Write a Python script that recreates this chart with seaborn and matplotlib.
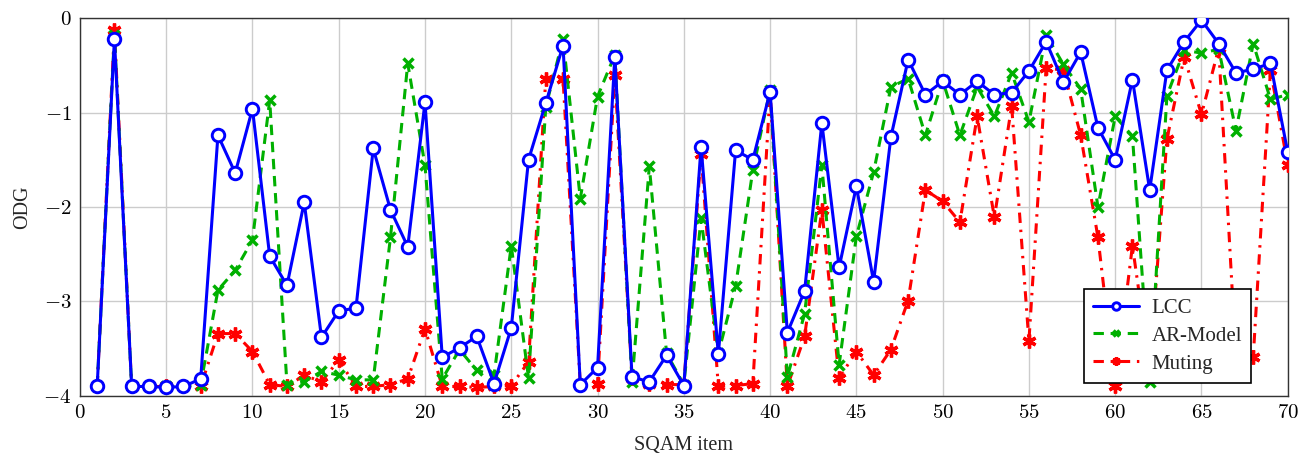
import numpy as np
import pandas as pd
import seaborn as sns
import matplotlib.pyplot as plt
from matplotlib.ticker import FuncFormatter, MultipleLocator

# ---------------- Data ----------------
items = list(range(1, 71))

lcc = [-3.90, -0.22, -3.90, -3.90, -3.91, -3.90, -3.82, -1.24, -1.64, -0.96,
       -2.52, -2.83, -1.95, -3.38, -3.10, -3.07, -1.38, -2.03, -2.42, -0.89,
       -3.59, -3.49, -3.37, -3.87, -3.28, -1.50, -0.90, -0.29, -3.88, -3.70,
       -0.41, -3.80, -3.85, -3.57, -3.89, -1.36, -3.56, -1.40, -1.50, -0.78,
       -3.33, -2.89, -1.11, -2.64, -1.78, -2.79, -1.26, -0.44, -0.81, -0.67,
       -0.81, -0.67, -0.81, -0.79, -0.56, -0.25, -0.68, -0.36, -1.16, -1.50,
       -0.65, -1.82, -0.55, -0.25, -0.02, -0.27, -0.58, -0.54, -0.48, -1.42]

ar_model = [-3.90, -0.18, -3.90, -3.90, -3.90, -3.90, -3.88, -2.88, -2.67, -2.35,
            -0.87, -3.88, -3.85, -3.74, -3.78, -3.83, -3.83, -2.32, -0.48, -1.56,
            -3.82, -3.51, -3.73, -3.78, -2.41, -3.81, -0.94, -0.22, -1.91, -0.83,
            -0.39, -3.85, -1.57, -3.55, -3.88, -2.12, -3.55, -2.84, -1.61, -0.76,
            -3.80, -3.13, -1.56, -3.67, -2.31, -1.63, -0.73, -0.64, -1.24, -0.66,
            -1.24, -0.73, -1.04, -0.58, -1.10, -0.18, -0.49, -0.75, -2.00, -1.04,
            -1.25, -3.85, -0.82, -0.34, -0.37, -0.33, -1.19, -0.27, -0.86, -0.81]

muting = [-3.90, -0.13, -3.90, -3.90, -3.90, -3.90, -3.90, -3.34, -3.34, -3.53,
          -3.88, -3.90, -3.78, -3.85, -3.62, -3.90, -3.90, -3.88, -3.82, -3.29,
          -3.90, -3.90, -3.91, -3.90, -3.89, -3.64, -0.64, -0.64, -3.88, -3.87,
          -0.60, -3.81, -3.87, -3.88, -3.88, -1.44, -3.90, -3.89, -3.87, -0.78,
          -3.90, -3.37, -2.03, -3.81, -3.53, -3.78, -3.51, -2.99, -1.82, -1.94,
          -2.16, -1.04, -2.11, -0.93, -3.42, -0.53, -0.55, -1.24, -2.32, -3.89,
          -2.41, -3.70, -1.28, -0.41, -1.02, -0.32, -3.60, -3.59, -0.55, -1.55]

df = pd.DataFrame({"item": items, "LCC": lcc, "AR-Model": ar_model, "Muting": muting})

# ---------------- Style ----------------
sns.set_theme(style="whitegrid")
plt.rcParams["font.family"] = ["Liberation Serif", "DejaVu Serif"]
plt.rcParams["mathtext.fontset"] = "cm"

fig = plt.figure(figsize=(13.1, 4.53), dpi=100)
ax = fig.add_axes([0.061, 0.126, 0.922, 0.834])

blue, green, red = "#0000ff", "#00b000", "#ff0000"

sns.lineplot(data=df, x="item", y="LCC", ax=ax, color=blue, lw=2.2,
             marker="o", ms=9, mfc="white", mec=blue, mew=2.1,
             label="LCC", zorder=5)
sns.lineplot(data=df, x="item", y="AR-Model", ax=ax, color=green, lw=2.2,
             linestyle=(0, (3.4, 2.2)), marker="x", ms=7, mec=green, mew=2.5,
             label="AR-Model", zorder=4)
sns.lineplot(data=df, x="item", y="Muting", ax=ax, color=red, lw=2.2,
             linestyle=(0, (3.4, 2.2, 0.8, 2.2)), marker=(6, 2, 0), ms=10,
             mec=red, mew=2.4, label="Muting", zorder=3)

ax.set_xlim(0, 70)
ax.set_ylim(-4, 0)
ax.xaxis.set_major_locator(MultipleLocator(5))
ax.yaxis.set_major_locator(MultipleLocator(1))
fmt = FuncFormatter(lambda v, _: f"${int(round(v))}$")
ax.xaxis.set_major_formatter(fmt)
ax.yaxis.set_major_formatter(fmt)
ax.tick_params(axis="both", labelsize=15, direction="in", length=4, width=0.8,
               color="#888888", labelcolor="black", pad=6)

ax.grid(True, color="#cccccc", lw=1.0)
for s in ax.spines.values():
    s.set_color("#333333")
    s.set_linewidth(1.0)

ax.set_xlabel("SQAM item", fontsize=14.5, labelpad=9)
ax.set_ylabel("ODG", fontsize=14.5, labelpad=8)

leg = ax.legend(loc="lower right", bbox_to_anchor=(0.970, 0.034), borderaxespad=0,
                fontsize=15, frameon=True, fancybox=False, framealpha=1,
                edgecolor="black", markerscale=0.6, handlelength=2.2,
                handletextpad=0.6, borderpad=0.45, labelspacing=0.4)
leg.get_frame().set_linewidth(1.2)

fig.savefig("out.png", dpi=100)
